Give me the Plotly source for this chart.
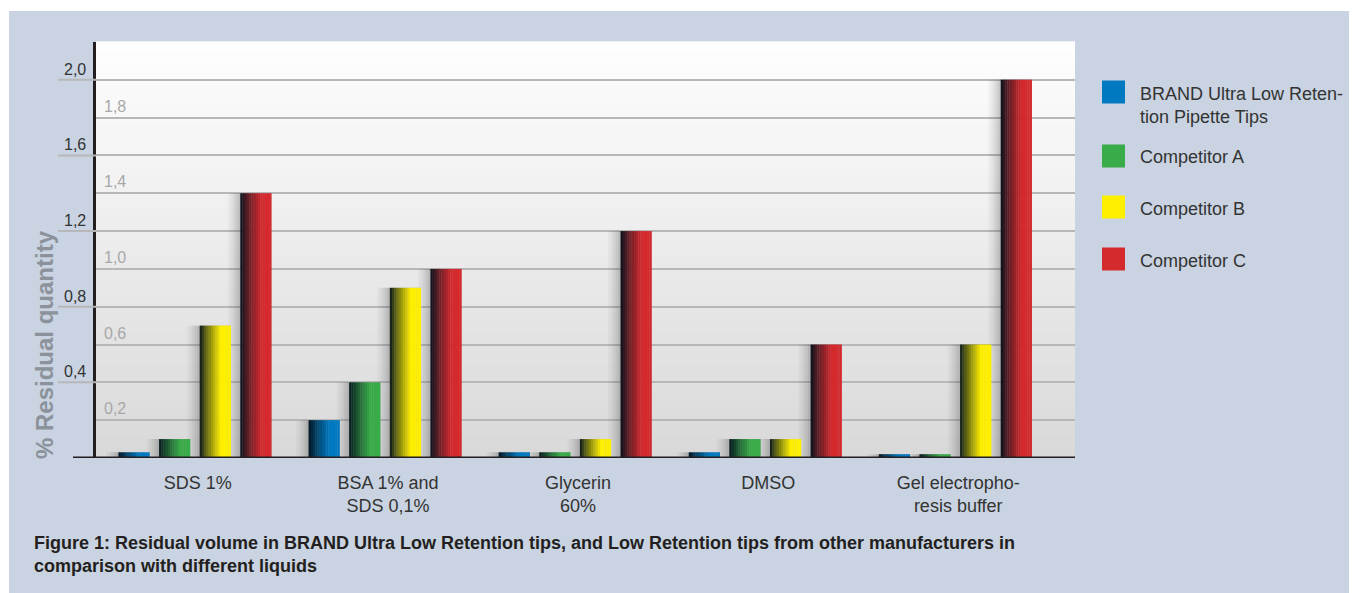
import plotly.graph_objects as go

# ---------------- data ----------------
categories = ["SDS 1%", "BSA 1% and<br>SDS 0,1%", "Glycerin<br>60%", "DMSO",
              "Gel electropho-<br>resis buffer"]
series_names = ["BRAND Ultra Low Reten-<br>tion Pipette Tips", "Competitor A",
                "Competitor B", "Competitor C"]
brand = [0.03, 0.20, 0.03, 0.03, 0.02]
comp_a = [0.10, 0.40, 0.03, 0.10, 0.02]
comp_b = [0.70, 0.90, 0.10, 0.10, 0.60]
comp_c = [1.40, 1.00, 1.20, 0.60, 2.00]
series_values = [brand, comp_a, comp_b, comp_c]
colors = ["#0079c1", "#3aab49", "#fff000", "#d42a2e"]
y_major = [0.4, 0.8, 1.2, 1.6, 2.0]
y_minor = [0.2, 0.6, 1.0, 1.4, 1.8]
caption_1 = "Figure 1: Residual volume in BRAND Ultra Low Retention tips, and Low Retention tips from other manufacturers in"
caption_2 = "comparison with different liquids"
y_title = "% Residual quantity"

# ---------------- geometry ----------------
OFF = 8  # page body margin
W, H = 1357 - OFF, 593 - OFF
L, R, T, B = 96 - OFF, 1075 - OFF, 42 - OFF, 458 - OFF
PW, PH = R - L, B - T
FONT = "Liberation Sans, Arial, sans-serif"


def px(x):  # x in window pixels -> paper
    return (x - OFF - L) / PW


def py(y):  # y in window pixels -> paper
    return (B - (y - OFF)) / PH


def hex2rgb(h):
    h = h.lstrip("#")
    return tuple(int(h[i:i + 2], 16) for i in (0, 2, 4))


x_pos = list(range(len(categories)))
bar_w = 0.163
pitch = 0.2137
dark = (5, 20, 30)
N = 14

fig = go.Figure()

# shadows (soft, to the left of each bar)
for i, vals in enumerate(series_values):
    c = (i - 1.5) * pitch
    for d, a in [(0.065, 0.035), (0.052, 0.04), (0.039, 0.05), (0.026, 0.06), (0.013, 0.07)]:
        fig.add_trace(go.Bar(
            x=x_pos, y=vals, width=bar_w + d, offset=c - bar_w / 2 - d,
            marker=dict(color=f"rgba(40,40,40,{a})", line=dict(width=0)),
            showlegend=False, hoverinfo="skip"))

# gradient bars built from slices
for i, (vals, col, name) in enumerate(zip(series_values, colors, series_names)):
    c = (i - 1.5) * pitch
    cr = hex2rgb(col)
    for k in range(N):
        t = (k + 0.5) / N
        f = min(1.0, t / 0.68) ** 0.85
        rgb = tuple(int(dark[j] + (cr[j] - dark[j]) * f) for j in range(3))
        fig.add_trace(go.Bar(
            x=x_pos, y=vals, width=bar_w / N + 0.0015,
            offset=c - bar_w / 2 + k * bar_w / N,
            marker=dict(color=f"rgb{rgb}", line=dict(width=0)),
            name=name.replace("<br>", ""), showlegend=False,
            hovertemplate="%{y}<extra></extra>"))

shapes = []
# outer blue panel
shapes.append(dict(type="rect", xref="paper", yref="paper", x0=px(9), x1=px(1360), y0=py(600), y1=py(11),
                   fillcolor="#c9d3e1", line=dict(width=0), layer="below"))
# plot area gradient
nb = 40
for k in range(nb):
    t0, t1 = k / nb, (k + 1) / nb
    g = int(255 - (255 - 217) * ((t0 + t1) / 2))
    shapes.append(dict(type="rect", xref="paper", yref="paper", x0=0, x1=1,
                       y0=1 - t1, y1=1 - t0 + 0.002, fillcolor=f"rgb({g},{g},{g+1})",
                       line=dict(width=0), layer="below"))
# gridline extensions for major ticks
for v in y_major:
    shapes.append(dict(type="line", xref="paper", yref="y", x0=px(58), x1=0, y0=v, y1=v,
                       line=dict(color="#b7b7ba", width=2)))
# x axis line
shapes.append(dict(type="line", xref="paper", yref="y", x0=px(73), x1=1, y0=0, y1=0,
                   line=dict(color="#231f20", width=3)))

annotations = []
for v in y_major:
    annotations.append(dict(text=f"{v:.1f}".replace(".", ","), xref="paper", yref="y", x=0, y=v,
                            xanchor="right", yanchor="bottom", xshift=-8, yshift=0, showarrow=False,
                            font=dict(family=FONT, size=16, color="#333333")))
for v in y_minor:
    annotations.append(dict(text=f"{v:.1f}".replace(".", ","), xref="paper", yref="y", x=0, y=v,
                            xanchor="left", yanchor="bottom", xshift=6, yshift=1, showarrow=False,
                            font=dict(family=FONT, size=16, color="#a8a8a8")))
# y title
annotations.append(dict(text="<b>" + y_title + "</b>", xref="paper", yref="paper", x=px(44), y=py(345),
                        textangle=-90, showarrow=False, xanchor="center", yanchor="middle",
                        font=dict(family=FONT, size=24, color="#8b929b")))
# captions
annotations.append(dict(text="<b>" + caption_1 + "</b>", xref="paper", yref="paper", x=px(32), y=py(543),
                        xanchor="left", yanchor="middle", showarrow=False,
                        font=dict(family=FONT, size=18, color="#231f20")))
annotations.append(dict(text="<b>" + caption_2 + "</b>", xref="paper", yref="paper", x=px(32), y=py(566),
                        xanchor="left", yanchor="middle", showarrow=False,
                        font=dict(family=FONT, size=18, color="#231f20")))

# custom legend
legend_y = [105, 157, 209, 261]
box_y = [92, 156, 207, 259]
for name, col, ty, by in zip(series_names, colors, legend_y, box_y):
    shapes.append(dict(type="rect", xref="paper", yref="paper", x0=px(1102), x1=px(1125),
                       y0=py(by + 11.5), y1=py(by - 11.5), fillcolor=col, line=dict(width=0)))
    annotations.append(dict(text=name, xref="paper", yref="paper", x=px(1138), y=py(ty),
                            xanchor="left", yanchor="middle", align="left", showarrow=False,
                            font=dict(family=FONT, size=18, color="#333333")))

fig.update_layout(
    width=W, height=H, autosize=False,
    margin=dict(l=L, r=W - R, t=T, b=H - B, pad=0),
    paper_bgcolor="white", plot_bgcolor="rgba(0,0,0,0)",
    barmode="overlay", showlegend=False,
    shapes=shapes, annotations=annotations,
    xaxis=dict(range=[-0.52, 4.63], tickvals=x_pos, ticktext=categories, showgrid=False,
               zeroline=False, showline=False, ticks="", ticklabelstandoff=12, ticklabelshift=3,
               tickfont=dict(family=FONT, size=18, color="#333333"), fixedrange=True),
    yaxis=dict(range=[0, 2.2], dtick=0.2, tick0=0, showgrid=True, gridcolor="#b7b7ba", gridwidth=2,
               zeroline=False, showline=True, linecolor="#231f20", linewidth=3,
               showticklabels=False, ticks="", fixedrange=True),
)

fig.write_html("out.html")
